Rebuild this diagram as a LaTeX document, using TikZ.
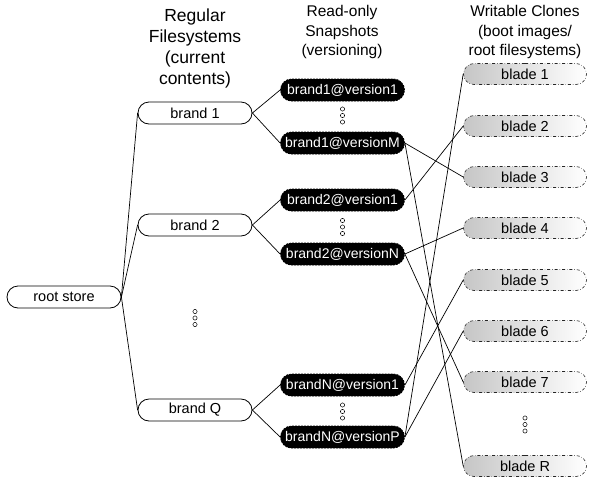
\documentclass[tikz,border=0pt]{standalone}
\usepackage{fontspec}
\setmainfont{Liberation Sans}
\usetikzlibrary{shapes.misc}
\begin{document}
\begin{tikzpicture}[x=1pt,y=-1pt,
  fsbox/.style={draw, line width=0.8pt, rounded rectangle, minimum width=114pt, minimum height=22pt, inner sep=0pt, font=\fontsize{14.5}{16}\selectfont},
  snapbox/.style={draw=black, fill=black, text=white, dash pattern=on 2pt off 1pt, line width=0.8pt, rounded rectangle, minimum width=124pt, minimum height=22pt, inner sep=0pt, font=\fontsize{14}{16}\selectfont},
  clonebox/.style={draw=black!85, dash dot, line width=0.6pt, rounded rectangle, left color=gray!45, right color=white, minimum width=123pt, minimum height=21pt, inner sep=0pt, font=\fontsize{14.5}{16}\selectfont},
  hdrA/.style={align=center, font=\fontsize{17.5}{21}\selectfont},
  hdrB/.style={align=center, font=\fontsize{15.5}{19.5}\selectfont},
  link/.style={draw, line width=0.7pt},
  dotc/.style={circle, draw, inner sep=0pt, minimum size=4.2pt, line width=0.5pt}
]
\useasboundingbox (0,0) rectangle (589,480);

% headers
\node[hdrA] (hA) at (195,48) {Regular\\Filesystems\\(current\\contents)};
\node[hdrB] (hB) at (342,32) {Read-only\\Snapshots\\(versioning)};
\node[hdrB] (hC) at (525,32) {Writable Clones\\(boot images/\\root filesystems)};

% root
\node[fsbox] (root) at (64,297) {root store};

% brands
\node[fsbox] (br1) at (195,113) {brand 1};
\node[fsbox] (br2) at (195,225) {brand 2};
\node[fsbox] (brQ) at (195,410) {brand Q};

% snapshots
\node[snapbox] (s11) at (342.5,90) {brand1@version1};
\node[snapbox] (s1M) at (342.5,143) {brand1@versionM};
\node[snapbox] (s21) at (342.5,200) {brand2@version1};
\node[snapbox] (s2N) at (342.5,254) {brand2@versionN};
\node[snapbox] (sN1) at (342.5,385) {brandN@version1};
\node[snapbox] (sNP) at (342.5,437) {brandN@versionP};

% clones
\node[clonebox] (cl1) at (525,74) {blade 1};
\node[clonebox] (cl2) at (525,126) {blade 2};
\node[clonebox] (cl3) at (525,177) {blade 3};
\node[clonebox] (cl4) at (525,228) {blade 4};
\node[clonebox] (cl5) at (525,280) {blade 5};
\node[clonebox] (cl6) at (525,331) {blade 6};
\node[clonebox] (cl7) at (525,382) {blade 7};
\node[clonebox] (clR) at (525,466) {blade R};

% ellipsis dots
\foreach \n/\x/\y in {dA/195/318, dB/342.5/115.5, dC/342.5/227, dD/342.5/411.5, dE/525/424.5}{
  \node[dotc] (\n-1) at (\x,\y-6.5) {};
  \node[dotc] (\n-2) at (\x,\y) {};
  \node[dotc] (\n-3) at (\x,\y+6.5) {};
}

% root to brands
\draw[link] (root.east) -- (br1.west);
\draw[link] (root.east) -- (br2.west);
\draw[link] (root.east) -- (brQ.west);

% brands to snapshots
\draw[link] (br1.east) -- (s11.west);
\draw[link] (br1.east) -- (s1M.west);
\draw[link] (br2.east) -- (s21.west);
\draw[link] (br2.east) -- (s2N.west);
\draw[link] (brQ.east) -- (sN1.west);
\draw[link] (brQ.east) -- (sNP.west);

% snapshots to clones
\draw[link] (s1M.east) -- (cl3.west);
\draw[link] (s1M.east) -- (clR.west);
\draw[link] (s21.east) -- (cl2.west);
\draw[link] (s2N.east) -- (cl4.west);
\draw[link] (s2N.east) -- (cl7.west);
\draw[link] (sN1.east) -- (cl5.west);
\draw[link] (sNP.east) -- (cl1.west);
\draw[link] (sNP.east) -- (cl6.west);
\end{tikzpicture}
\end{document}
